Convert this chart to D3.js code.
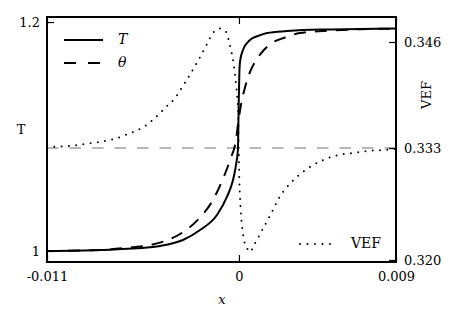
<!DOCTYPE html>
<html>
<head>
<meta charset="utf-8">
<script src="https://cdn.jsdelivr.net/npm/d3@7"></script>
<style>
  body { margin: 0; background: #fff; }
  text { font-family: "DejaVu Serif", "Liberation Serif", serif; font-size: 13px; fill: #000; }
</style>
</head>
<body>
<script>
// T (solid)
const xT = [-0.011, -0.00796, -0.0051, -0.00452, -0.00321, -0.00223, -0.00126, -0.00069, -0.00034, -0.00017,
            -0.00006, -0.00002, 0.00002, 0.00006, 0.00023, 0.00063, 0.00109, 0.00161, 0.00275, 0.00464, 0.00694, 0.009]
const T = [1.0000, 1.0009, 1.0032, 1.0044, 1.0096, 1.0183, 1.0314, 1.0472, 1.0620, 1.0751,
           1.0882, 1.1232, 1.1537, 1.1651, 1.1756, 1.1843, 1.1878, 1.1904, 1.1921, 1.1935, 1.1939, 1.1943]

// theta (dashed)
const xTheta = [-0.011, -0.00796, -0.00624, -0.0051, -0.00424, -0.00315, -0.00223, -0.00149, -0.00097, -0.00051, -0.00017,
                0, 0.00017, 0.00034, 0.00063, 0.00092, 0.00138, 0.00189, 0.00264, 0.0035, 0.00522, 0.00694, 0.009]
const theta = [1.0000, 1.0009, 1.0031, 1.0052, 1.0087, 1.0170, 1.0293, 1.0445, 1.0611, 1.0795, 1.0970,
               1.1170, 1.1319, 1.1424, 1.1563, 1.1651, 1.1747, 1.1817, 1.1865, 1.1904, 1.1926, 1.1937, 1.1943]

// VEF (dotted, right axis)
const xVEF = [-0.011, -0.01054, -0.00968, -0.00882, -0.00802, -0.00716, -0.00636, -0.00556, -0.00487, -0.00424,
              -0.00366, -0.00321, -0.00275, -0.00229, -0.00189, -0.00149, -0.00111, -0.00074, -0.00051, -0.00034,
              -0.00022, -0.00011, -0.00005, -0.00001, 0.00002, 0.00006, 0.00011, 0.00017, 0.00029, 0.00046,
              0.00063, 0.00086, 0.00109, 0.00149, 0.00189, 0.00229, 0.00275, 0.00338, 0.00407, 0.00482,
              0.00568, 0.00654, 0.0074, 0.00826, 0.009]
const VEF = [0.33322, 0.33326, 0.33334, 0.33358, 0.33382, 0.33417, 0.33477, 0.33548, 0.33655, 0.33786,
             0.33904, 0.34047, 0.34202, 0.34368, 0.34522, 0.34677, 0.34730, 0.34689, 0.34522, 0.34356,
             0.34166, 0.33940, 0.33762, 0.33287, 0.32930, 0.32728, 0.32538, 0.32396, 0.32217, 0.32122,
             0.32075, 0.32158, 0.32241, 0.32396, 0.32550, 0.32716, 0.32847, 0.32978, 0.33085, 0.33168,
             0.33227, 0.33251, 0.33275, 0.33287, 0.33299]

const refVEF = 0.3331

const xTicks = [-0.011, 0, 0.009]
const leftTicks = [1, 1.2]
const rightTicks = [0.3198, 0.3331, 0.3457]

const WIDTH = 457
const HEIGHT = 324
const margin = { top: 17, bottom: 62, left: 47, right: 61 }
const FONT = '"DejaVu Serif", "Liberation Serif", serif'

const svg = d3.select('body').append('svg')
    .attr('width', WIDTH)
    .attr('height', HEIGHT)

const x = d3.scaleLinear()
    .domain([-0.011, 0.009])
    .range([margin.left, WIDTH - margin.right])

const yL = d3.scaleLinear()
    .domain([0.9904, 1.2044])
    .range([HEIGHT - margin.bottom, margin.top])

const yR = d3.scaleLinear()
    .domain([0.31956, 0.34867])
    .range([HEIGHT - margin.bottom, margin.top])

// grey reference line
svg.append('line')
    .attr('x1', x(-0.011)).attr('x2', x(0.009))
    .attr('y1', yR(refVEF)).attr('y2', yR(refVEF))
    .attr('stroke', '#a0a0a0')
    .attr('stroke-width', 1.5)
    .attr('stroke-dasharray', '11.5,11')

const lineL = d3.line().curve(d3.curveMonotoneX).x(d => x(d[0])).y(d => yL(d[1]))
const lineR = d3.line().curve(d3.curveMonotoneX).x(d => x(d[0])).y(d => yR(d[1]))

svg.append('path')
    .datum(d3.zip(xVEF, VEF))
    .attr('d', lineR)
    .attr('fill', 'none')
    .attr('stroke', '#000')
    .attr('stroke-width', 2)
    .attr('stroke-linecap', 'round')
    .attr('stroke-dasharray', '0,7.3')

svg.append('path')
    .datum(d3.zip(xTheta, theta))
    .attr('d', lineL)
    .attr('fill', 'none')
    .attr('stroke', '#000')
    .attr('stroke-width', 2)
    .attr('stroke-dasharray', '12,9')

svg.append('path')
    .datum(d3.zip(xT, T))
    .attr('d', lineL)
    .attr('fill', 'none')
    .attr('stroke', '#000')
    .attr('stroke-width', 2)

// axes, ticks pointing inward
const fmt = d => String(d)

svg.append('g')
    .attr('transform', `translate(0,${HEIGHT - margin.bottom})`)
    .call(d3.axisBottom(x).tickValues(xTicks).tickFormat(fmt).tickSize(-7).tickPadding(10))
svg.append('g')
    .attr('transform', `translate(0,${margin.top})`)
    .call(d3.axisTop(x).tickValues(xTicks).tickFormat('').tickSize(-7))
svg.append('g')
    .attr('transform', `translate(${margin.left},0)`)
    .call(d3.axisLeft(yL).tickValues(leftTicks).tickFormat(d3.format('~g')).tickSize(-7).tickPadding(7))
svg.append('g')
    .attr('transform', `translate(${WIDTH - margin.right},0)`)
    .call(d3.axisRight(yR).tickValues(rightTicks).tickFormat(d3.format('.3f')).tickSize(-7).tickPadding(8))

svg.selectAll('.domain').remove()
svg.selectAll('g').attr('font-family', FONT).attr('font-size', 13)
svg.selectAll('.tick line').attr('stroke', '#000').attr('stroke-width', 1.2)

svg.append('rect')
    .attr('x', margin.left).attr('y', margin.top)
    .attr('width', WIDTH - margin.left - margin.right)
    .attr('height', HEIGHT - margin.top - margin.bottom)
    .attr('fill', 'none')
    .attr('stroke', '#000')
    .attr('stroke-width', 2)

// axis labels
svg.append('text').attr('x', 21).attr('y', 130).attr('text-anchor', 'middle')
    .attr('dominant-baseline', 'middle').text('T')
svg.append('text').attr('transform', 'translate(427,95) rotate(-90)').attr('text-anchor', 'middle')
    .attr('dominant-baseline', 'middle').text('VEF')
svg.append('text').attr('x', 222).attr('y', 300).attr('text-anchor', 'middle')
    .attr('dominant-baseline', 'middle').style('font-style', 'italic').text('x')

// legends
const leg = svg.append('g')
leg.append('line').attr('x1', 64).attr('x2', 103).attr('y1', 40).attr('y2', 40)
    .attr('stroke', '#000').attr('stroke-width', 2)
leg.append('text').attr('x', 118).attr('y', 40).attr('dominant-baseline', 'middle')
    .style('font-style', 'italic').style('font-size', '14px').text('T')
leg.append('line').attr('x1', 64).attr('x2', 100).attr('y1', 63).attr('y2', 63)
    .attr('stroke', '#000').attr('stroke-width', 2).attr('stroke-dasharray', '12,12')
leg.append('text').attr('x', 118).attr('y', 63).attr('dominant-baseline', 'middle')
    .style('font-style', 'italic').style('font-size', '14px').text('θ')
leg.append('line').attr('x1', 300).attr('x2', 331).attr('y1', 244).attr('y2', 244)
    .attr('stroke', '#000').attr('stroke-width', 2).attr('stroke-linecap', 'round')
    .attr('stroke-dasharray', '0,7.5')
leg.append('text').attr('x', 351).attr('y', 244).attr('dominant-baseline', 'middle')
    .style('font-size', '14px').text('VEF')
</script>
</body>
</html>
